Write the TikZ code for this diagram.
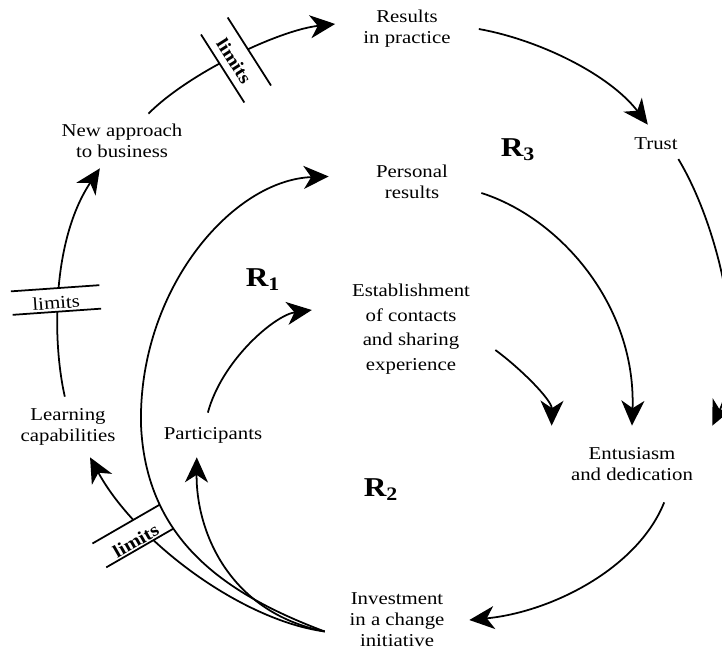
\documentclass[tikz,border=0pt]{standalone}
\usepackage{fontspec}
\setmainfont{Liberation Serif}[FakeStretch=1.15]
\usetikzlibrary{arrows.meta}
\tikzset{
	>={Stealth[length=5mm,width=4.6mm,inset=1.5mm]}, % Puntas de flecha gruesas
	flow/.style={->, line width=1pt}, % Arcos entre variables
	var/.style={align=center, inner sep=0pt, font=\fontsize{10.3}{12}\selectfont}, % Variables del diagrama
	loopname/.style={font=\fontsize{15.5}{15.5}\selectfont\bfseries}, % Nombre de cada bucle
	limitsbar/.style={fill=white, inner sep=0pt, text depth=#1, font=\fontsize{10.3}{12}\selectfont,
		append after command={(\tikzlastnode.north west) edge[line width=1pt] (\tikzlastnode.north east)
			(\tikzlastnode.south west) edge[line width=1pt] (\tikzlastnode.south east)}} % Barra de limite
}

\begin{document}
\begin{tikzpicture}[x=0.02cm, y=-0.02cm]
	\useasboundingbox[fill=white] (0,0) rectangle (722,653);
	\clip (0,0) rectangle (722,653);
	\node[var, minimum width=28.6mm, minimum height=9.6mm] (res) at (407,29) {Results\\in practice};
	\node[var, minimum width=8.8mm, minimum height=7.6mm] (trust) at (656,144) {Trust};
	\node[var, minimum width=26mm, minimum height=10.8mm] (newapp) at (122,141) {New approach\\to business};
	\node[var, minimum width=27.6mm, minimum height=8.8mm] (pers) at (412,182) {Personal\\results};
	\node[var, minimum width=33.6mm, minimum height=18mm, font=\fontsize{10.3}{14}\selectfont] (est) at (411,329) {Establishment\\of contacts\\and sharing\\experience};
	\node[var, minimum width=20mm, minimum height=12mm] (learn) at (68,427) {Learning\\capabilities};
	\node[var, minimum width=22mm, minimum height=8.8mm] (part) at (213,435) {Participants};
	\node[var, minimum width=32mm, minimum height=15.2mm] (entu) at (632,464) {Entusiasm\\and dedication};
	\node[var, minimum width=28.8mm, minimum height=13.2mm] (inv) at (397,620) {Investment\\in a change\\initiative};

	\node[loopname] (r1) at (263,280) {R\textsubscript{1}};
	\node[loopname] (r2) at (381,490) {R\textsubscript{2}};
	\node[loopname] (r3) at (518,150) {R\textsubscript{3}};

	\draw[flow] (newapp.46) .. controls (190,72) and (280,30) .. (res.176);
	\draw[flow] (res.east) .. controls (540,40) and (610,75) .. (trust.113);
	\draw[flow] (trust.-34) .. controls (718,225) and (748,350) .. (entu.north east);
	\draw[flow] (pers.-9) .. controls (560,218) and (636,305) .. (entu.north);
	\draw[flow] (est.-14) .. controls (520,368) and (552,400) .. (entu.north west);
	\draw[flow] (entu.-50) .. controls (638,568) and (552,612) .. (inv.east);
	\draw[flow] (inv.189) .. controls (240,620) and (135,540) .. (learn.-54);
	\draw[flow] (inv.189) .. controls (228,612) and (196,530) .. (part.234);
	\draw[flow, shorten >=3mm] (part.103) .. controls (222,360) and (275,315) .. (est.166);
	\draw[flow] (learn.96) .. controls (52,340) and (52,240) .. (newapp.231);

	\node[limitsbar=4pt, text height=13.6pt, minimum width=16mm, rotate=-57.5] (lim1) at (236,60) {\bfseries limits};
	\node[limitsbar=1.5pt, text height=11.5pt, minimum width=17.6mm, rotate=4] (lim2) at (56,300) {limits};
	\node[limitsbar=1pt, text height=14.3pt, minimum width=15.4mm, rotate=30] (lim3) at (133,536) {\bfseries limits};

	\draw[flow, shorten >=2.8mm] (inv.189) .. controls (225,594) and (146,540) .. (141,425)
		.. controls (138,290) and (232,180) .. (pers.175);
\end{tikzpicture}
\end{document}
